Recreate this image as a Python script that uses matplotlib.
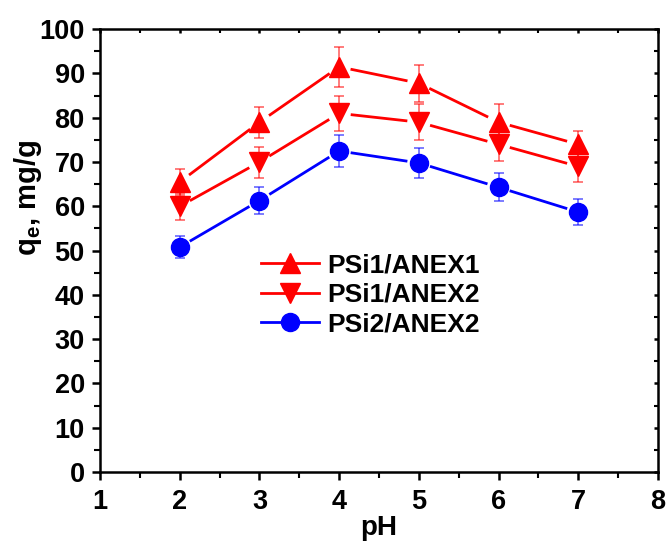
import numpy as np
import matplotlib
matplotlib.use("Agg")
import matplotlib.pyplot as plt
from matplotlib.ticker import MultipleLocator
from matplotlib.lines import Line2D

plt.rcParams['font.family'] = ['Liberation Sans', 'DejaVu Sans']
plt.rcParams['font.weight'] = 'bold'
plt.rcParams['mathtext.fontset'] = 'custom'
plt.rcParams['mathtext.bf'] = 'Liberation Sans:bold'
plt.rcParams['mathtext.rm'] = 'Liberation Sans:bold'

# values
ph = [2, 3, 4, 5, 6, 7]
psi1_anex1 = [65.5, 79, 91.5, 87.8, 79, 74]
psi1_anex1_err = [3, 3.5, 4.5, 4.2, 4, 3]
psi1_anex2 = [60, 70, 81, 79, 74, 69]
psi1_anex2_err = [3, 3.5, 4, 4, 3.7, 3.4]
psi2_anex2 = [50.8, 61.3, 72.5, 69.8, 64.3, 58.7]
psi2_anex2_err = [2.4, 3, 3.6, 3.4, 3.2, 2.9]

series = [
    ("PSi1/ANEX1", psi1_anex1, psi1_anex1_err, "red", "^"),
    ("PSi1/ANEX2", psi1_anex2, psi1_anex2_err, "red", "v"),
    ("PSi2/ANEX2", psi2_anex2, psi2_anex2_err, "blue", "o"),
]

fig = plt.figure(figsize=(6.67, 5.41), dpi=100)
ax = fig.add_axes([0.15, 0.1275, 0.8365, 0.8185])
ax.set_xlim(1, 8)
ax.set_ylim(0, 100)

gap = 13  # px gap between connecting line and marker (Origin style)
handles = []
for name, y, err, col, mk in series:
    ax.errorbar(ph, y, yerr=err, fmt="none", ecolor=col, alpha=0.6,
                elinewidth=1.2, capsize=3.5, capthick=1.2, zorder=2)
    ms = 15 if mk != "o" else 13
    ax.plot(ph, y, linestyle="none", color=col, marker=mk, markersize=ms,
            zorder=3)
    # connecting segments, shortened at both ends
    pts = ax.transData.transform(np.column_stack([ph, y]))
    inv = ax.transData.inverted()
    for p0, p1 in zip(pts[:-1], pts[1:]):
        d = p1 - p0
        u = d / np.hypot(*d)
        a, b = inv.transform([p0 + u * gap, p1 - u * gap])
        ax.plot([a[0], b[0]], [a[1], b[1]], color=col, linewidth=2, zorder=3)
    handles.append(Line2D([], [], color=col, marker=mk, markersize=ms,
                          linewidth=2, label=name))

ax.xaxis.set_major_locator(MultipleLocator(1))
ax.xaxis.set_minor_locator(MultipleLocator(0.5))
ax.yaxis.set_major_locator(MultipleLocator(10))
ax.yaxis.set_minor_locator(MultipleLocator(5))

for s in ax.spines.values():
    s.set_linewidth(1.8)

ax.tick_params(which="major", direction="out", length=6, width=1.8,
               labelsize=19.5)
ax.tick_params(axis="y", which="major", pad=5)
ax.tick_params(axis="x", which="major", pad=6)
ax.tick_params(which="minor", direction="out", length=4, width=1.5)
ax.tick_params(which="both", top=True, right=True)

# top/right ticks point inward like in Origin
for t in ax.xaxis.get_major_ticks() + ax.xaxis.get_minor_ticks():
    t.tick2line.set_marker(3)
    t.tick2line.set_markersize(3)
for t in ax.yaxis.get_major_ticks() + ax.yaxis.get_minor_ticks():
    t.tick2line.set_marker(0)
    t.tick2line.set_markersize(3)

for lab in ax.get_xticklabels() + ax.get_yticklabels():
    lab.set_fontweight("bold")

ax.set_xlabel("pH", fontsize=20, fontweight="bold", labelpad=0)
ax.set_ylabel(r"q$_\mathbf{e}$, mg/g", fontsize=21, fontweight="bold")
ax.yaxis.set_label_coords(-0.10, 0.62)

ax.legend(handles=handles, loc="upper left", bbox_to_anchor=(0.255, 0.535),
          frameon=False, handlelength=2.2, handletextpad=0.3,
          labelspacing=0.2, borderpad=0.2, prop={"weight": "bold", "size": 19})

fig.savefig("out.png", dpi=100)
